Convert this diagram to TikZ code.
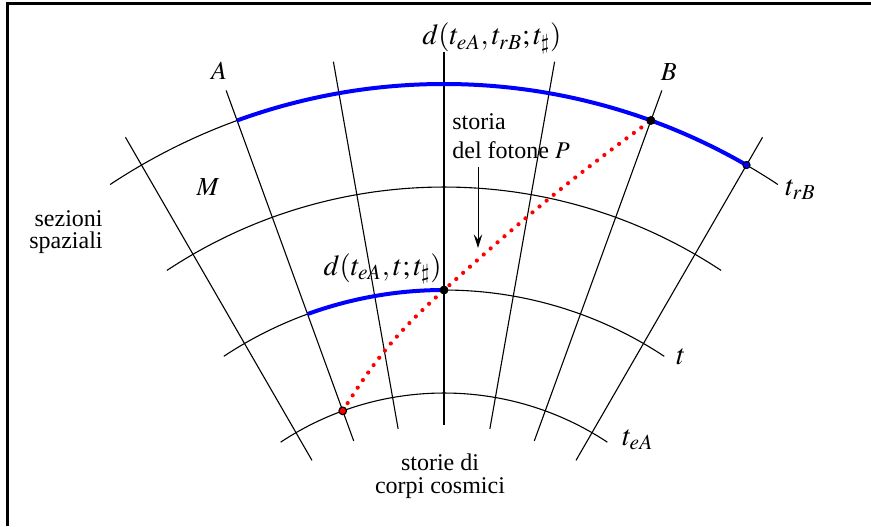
\documentclass[tikz,border=0pt]{standalone}
\usepackage{mathptmx}
\usepackage{fontspec}
\setmainfont{Liberation Serif}
\usetikzlibrary{arrows.meta,positioning}
\tikzset{
  cornice/.style={black, line width=1.5pt},
  storia/.style={black, line width=0.55pt},
  sezione/.style={black, line width=0.55pt},
  tratto/.style={blue, line width=2pt},
  fotone/.style={red, line width=2.1pt, line cap=round, dash pattern=on 0pt off 4.6pt},
  punto/.style={circle, draw=black, fill=black, inner sep=0pt, minimum size=4pt},
  puntoblu/.style={circle, draw=black, fill=blue, line width=0.5pt, inner sep=0pt, minimum size=3.6pt},
  puntorosso/.style={circle, draw=black, fill=red, line width=0.6pt, inner sep=0pt, minimum size=3.8pt},
  freccia/.style={-{Stealth[length=2.4mm, width=1.5mm, inset=0.9mm]}, line width=0.5pt},
  testo/.style={font=\fontsize{12}{11.3}\selectfont, inner sep=0pt},
  lettera/.style={font=\fontsize{13}{14}\selectfont, inner sep=0pt},
  formula/.style={font=\fontsize{14.5}{16}\selectfont, inner sep=0pt},
}
\begin{document}
\begin{tikzpicture}[x=0.5pt, y=0.5pt]
  \useasboundingbox (-444,163) rectangle (427,689);
  \draw[cornice] (-436,163) -- (-436,685) -- (427,685);

  % ---------------- storie e sezioni ----------------
  \foreach \a in {60,70,...,120} { \draw[storia] (\a:264) -- (\a:637) coordinate (cima\a); }
  \foreach \r in {296,399,502,605} {
    \draw[sezione] (56.5:\r) arc[start angle=56.5, end angle=123.5, radius=\r];
  }
  \draw[tratto] (110:605) arc[start angle=110, end angle=60, radius=605];
  \draw[tratto] (110:399) arc[start angle=110, end angle=90, radius=399];

  % ---------------- fotone ----------------
  \coordinate (eA) at (110:296);
  \coordinate (tt) at (90:399);
  \coordinate (rB) at (70:605);
  \coordinate (rBlu) at (60:605);
  \draw[fotone] (eA) to[out=58, in=222] (tt) to[out=42, in=216] (rB);
  \node[puntorosso] (pEA) at (eA) {};
  \node[punto] (pT) at (tt) {};
  \node[punto] (pB) at (rB) {};
  \node[puntoblu] (pBlu) at (rBlu) {};

  % ---------------- etichette ----------------
  \node[lettera] (labA) at (110:658) {$A$};
  \node[lettera] (labB) at (70:657) {$B$};
  \node[lettera] (labM) at (-236,502) {$M$};
  \node[formula, anchor=base west] (labDtop) at (-22,644) {$d(t_{eA},t_{rB};t_\sharp)$};
  \node[formula, anchor=base east] (labDt) at (-2,414) {$d(t_{eA},t;t_\sharp)$};
  \node[formula, anchor=base west] (labtrB) at (341,494) {$t_{rB}$};
  \node[formula, anchor=base west] (labt) at (232,325) {$t$};
  \node[formula, anchor=base west] (labteA) at (178,244) {$t_{eA}$};
  \node[testo, anchor=east, align=right] (labSez) at (-341,457) {sezioni\\spaziali};
  \node[testo, align=center] (labCorpi) at (-4,213) {storie di\\corpi cosmici};
  \node[testo, font=\fontsize{12}{14.5}\selectfont, anchor=west, align=left] (labFotone) at (8,553) {storia\\del fotone $P$};
  \coordinate (codaP) at (34,522);
  \coordinate (puntaP) at (34,441);
  \draw[freccia] (codaP) -- (puntaP);
\end{tikzpicture}
\end{document}
